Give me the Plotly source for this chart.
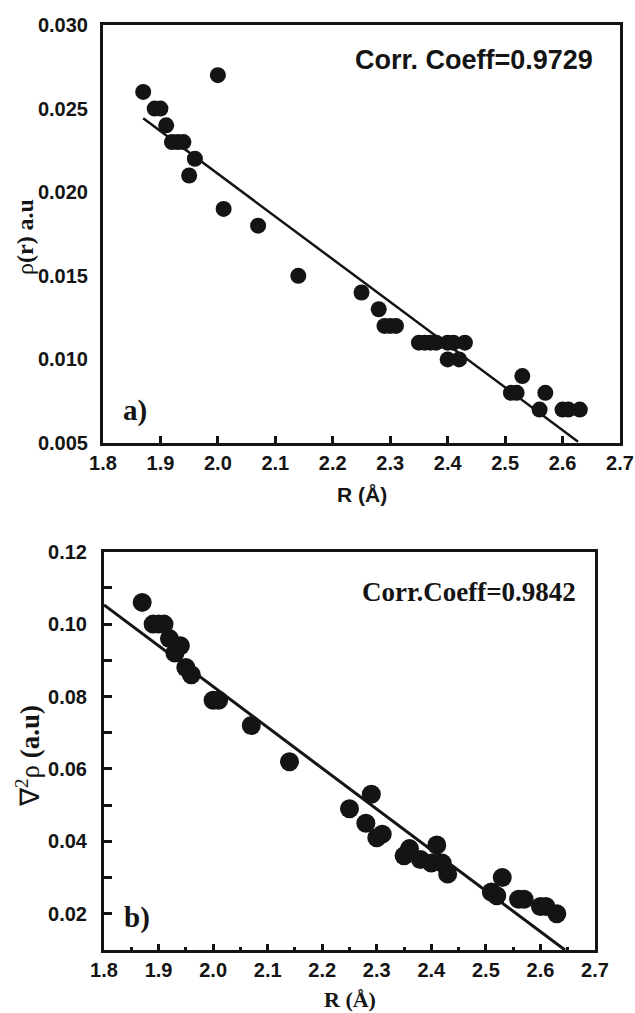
import plotly.graph_objects as go

# ---- panel a) electron density rho(r) vs R ----
R_a = [1.87, 1.89, 1.90, 1.91, 1.92, 1.93, 1.94, 1.95, 1.96, 2.00, 2.01, 2.07, 2.14,
       2.25, 2.28, 2.29, 2.30, 2.31, 2.35, 2.36, 2.37, 2.38, 2.40, 2.41, 2.43,
       2.40, 2.42, 2.51, 2.52, 2.53, 2.56, 2.57, 2.60, 2.61, 2.63]
rho = [0.026, 0.025, 0.025, 0.024, 0.023, 0.023, 0.023, 0.021, 0.022, 0.027, 0.019, 0.018, 0.015,
       0.014, 0.013, 0.012, 0.012, 0.012, 0.011, 0.011, 0.011, 0.011, 0.011, 0.011, 0.011,
       0.010, 0.010, 0.008, 0.008, 0.009, 0.007, 0.008, 0.007, 0.007, 0.007]
fit_a_x = [1.87, 2.627]
fit_a_y = [0.02442, 0.00508]

# ---- panel b) Laplacian of rho vs R ----
R_b = [1.87, 1.89, 1.90, 1.91, 1.92, 1.93, 1.94, 1.95, 1.96, 2.00, 2.01, 2.07, 2.14,
       2.25, 2.28, 2.29, 2.30, 2.31, 2.35, 2.36, 2.38, 2.40, 2.41, 2.42, 2.43,
       2.51, 2.52, 2.53, 2.56, 2.57, 2.60, 2.61, 2.63]
lap = [0.106, 0.100, 0.100, 0.100, 0.096, 0.092, 0.094, 0.088, 0.086, 0.079, 0.079, 0.072, 0.062,
       0.049, 0.045, 0.053, 0.041, 0.042, 0.036, 0.038, 0.035, 0.034, 0.039, 0.034, 0.031,
       0.026, 0.025, 0.030, 0.024, 0.024, 0.022, 0.022, 0.020]
fit_b_x = [1.80, 2.645]
fit_b_y = [0.1053, 0.0100]

x_ticks = [1.8, 1.9, 2.0, 2.1, 2.2, 2.3, 2.4, 2.5, 2.6, 2.7]
x_ticktext = ["1.8", "1.9", "2.0", "2.1", "2.2", "2.3", "2.4", "2.5", "2.6", "2.7"]
ya_ticks = [0.005, 0.010, 0.015, 0.020, 0.025, 0.030]
ya_ticktext = ["0.005", "0.010", "0.015", "0.020", "0.025", "0.030"]
yb_ticks = [0.02, 0.04, 0.06, 0.08, 0.10, 0.12]
yb_ticktext = ["0.02", "0.04", "0.06", "0.08", "0.10", "0.12"]

INK = "#141414"
SANS = "Liberation Sans"
SERIF = "Liberation Serif"
W, H = 635, 1013

fig = go.Figure()
fig.add_trace(go.Scatter(x=R_a, y=rho, mode="markers", xaxis="x", yaxis="y",
                         marker=dict(size=16, color=INK), showlegend=False))
fig.add_trace(go.Scatter(x=fit_a_x, y=fit_a_y, mode="lines", xaxis="x", yaxis="y",
                         line=dict(color=INK, width=2.5), showlegend=False))
fig.add_trace(go.Scatter(x=R_b, y=lap, mode="markers", xaxis="x2", yaxis="y2",
                         marker=dict(size=19, color=INK), showlegend=False))
fig.add_trace(go.Scatter(x=fit_b_x, y=fit_b_y, mode="lines", xaxis="x2", yaxis="y2",
                         line=dict(color=INK, width=3), showlegend=False))

tickfont_sans = dict(family=SANS, size=20, color=INK, weight="bold")


def px_x(px):
    return px / W


def px_y(py):
    return 1 - py / H


fig.update_layout(
    width=W, height=H,
    margin=dict(l=0, r=0, t=0, b=0, autoexpand=False),
    paper_bgcolor="white", plot_bgcolor="white",
    xaxis=dict(domain=[px_x(103), px_x(620)], range=[1.8, 2.7], anchor="y", automargin=False,
               tickvals=x_ticks, ticktext=x_ticktext, ticks="inside", ticklen=7, tickwidth=2.5,
               tickcolor=INK, showline=True, linewidth=3, linecolor=INK, mirror=True,
               showgrid=False, zeroline=False, tickfont=tickfont_sans),
    yaxis=dict(domain=[px_y(443), px_y(25)], range=[0.005, 0.030], anchor="x", automargin=False,
               tickvals=ya_ticks, ticktext=ya_ticktext, ticks="", ticklabelstandoff=8,
               showline=True, linewidth=3, linecolor=INK, mirror=True,
               showgrid=False, zeroline=False, tickfont=tickfont_sans),
    xaxis2=dict(domain=[px_x(104), px_x(595)], range=[1.8, 2.7], anchor="y2", automargin=False,
                tickvals=x_ticks, ticktext=x_ticktext, ticks="inside", ticklen=6, tickwidth=2.5,
                tickcolor=INK, showline=True, linewidth=3, linecolor=INK, mirror=True,
                minor=dict(dtick=0.05, tick0=1.8, ticks="inside", ticklen=3, tickwidth=2.5, tickcolor=INK),
                showgrid=False, zeroline=False, tickfont=tickfont_sans),
    yaxis2=dict(domain=[px_y(950), px_y(551.7)], range=[0.01, 0.12], anchor="x2", automargin=False,
                tickvals=yb_ticks, ticktext=yb_ticktext, ticks="inside", ticklen=8, tickwidth=2.5,
                tickcolor=INK, showline=True, linewidth=3, linecolor=INK, mirror=True,
                minor=dict(dtick=0.01, tick0=0.01, ticks="inside", ticklen=8, tickwidth=2.5, tickcolor=INK),
                ticklabelstandoff=10,
                showgrid=False, zeroline=False, tickfont=tickfont_sans),
    annotations=[
        # axis titles
        dict(text="<b>R (Å)</b>", xref="paper", yref="paper", x=px_x(361.5), y=px_y(494),
             xanchor="center", yanchor="middle", showarrow=False,
             font=dict(family=SANS, size=21, color=INK)),
        dict(text="<b>R (Å)</b>", xref="paper", yref="paper", x=px_x(349.5), y=px_y(999),
             xanchor="center", yanchor="middle", showarrow=False,
             font=dict(family=SERIF, size=22, color=INK)),
        dict(text="ρ<b>(r) a.u</b>", xref="paper", yref="paper", x=px_x(25), y=px_y(237),
             xanchor="center", yanchor="middle", showarrow=False, textangle=-90,
             font=dict(family=SERIF, size=24, color=INK)),
        dict(text="∇<sup>2</sup>ρ <b>(a.u)</b>", xref="paper", yref="paper", x=px_x(28), y=px_y(756),
             xanchor="center", yanchor="middle", showarrow=False, textangle=-90,
             font=dict(family=SERIF, size=27, color=INK)),
        # in-plot labels
        dict(text="<b>Corr. Coeff=0.9729</b>", xref="paper", yref="paper",
             x=px_x(595), y=px_y(60), xanchor="right", yanchor="middle", showarrow=False,
             font=dict(family=SANS, size=27, color=INK)),
        dict(text="<b>Corr.Coeff=0.9842</b>", xref="paper", yref="paper",
             x=px_x(578), y=px_y(592), xanchor="right", yanchor="middle", showarrow=False,
             font=dict(family=SERIF, size=27, color=INK)),
        dict(text="<b>a)</b>", xref="paper", yref="paper",
             x=px_x(121), y=px_y(410), xanchor="left", yanchor="middle", showarrow=False,
             font=dict(family=SERIF, size=29, color=INK)),
        dict(text="<b>b)</b>", xref="paper", yref="paper",
             x=px_x(122), y=px_y(917), xanchor="left", yanchor="middle", showarrow=False,
             font=dict(family=SERIF, size=29, color=INK)),
    ],
)

fig.write_html(
    "out.html",
    config={"displayModeBar": False},
    post_script="document.body.style.margin='0';document.body.style.overflow='hidden';",
)
